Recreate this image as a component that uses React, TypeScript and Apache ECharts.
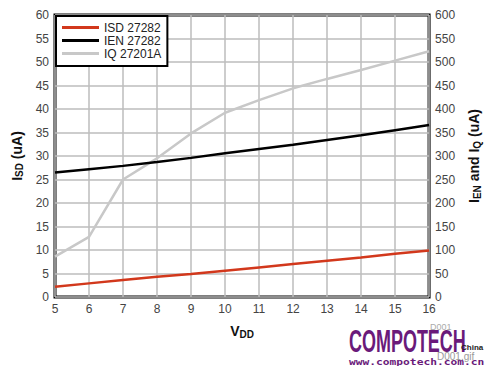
import React, { useEffect, useRef } from "react";
import * as echarts from "echarts";

const vdd = [5, 6, 7, 8, 9, 10, 11, 12, 13, 14, 15, 16];
const isd27282 = [2.2, 2.9, 3.6, 4.3, 4.9, 5.6, 6.3, 7.0, 7.7, 8.4, 9.2, 9.9];
const ien27282 = [265, 272, 279, 287, 296, 306, 315, 324, 334, 344, 355, 366];
const iq27201a = [86, 128, 250, 295, 348, 392, 419, 444, 464, 483, 503, 523];
const seriesNames = ["ISD 27282", "IEN 27282", "IQ 27201A"];

const FONT = "Liberation Sans, Arial, sans-serif";

export default function App() {
  const ref = useRef<HTMLDivElement>(null);
  useEffect(() => {
    if (!ref.current) return;
    const chart = echarts.init(ref.current, null, { renderer: "svg" });
    const pair = (ys: number[]) => vdd.map((x, i) => [x, ys[i]]);
    const nameRich = {
      b: { fontSize: 14, fontWeight: "bold", color: "#111", fontFamily: FONT, lineHeight: 16 },
      s: { fontSize: 10, fontWeight: "bold", color: "#111", fontFamily: FONT, padding: [6, 0, 0, 0], lineHeight: 16 },
    };
    chart.setOption({
      animation: false,
      backgroundColor: "#ffffff",
      textStyle: { fontFamily: FONT },
      grid: {
        left: 55,
        right: 59,
        top: 15,
        bottom: 69,
        show: true,
        borderColor: "#000",
        borderWidth: 3,
        backgroundColor: "transparent",
      },
      legend: {
        orient: "vertical",
        left: 56,
        top: 16,
        data: seriesNames,
        icon: "rect",
        itemWidth: 37,
        itemHeight: 3,
        itemGap: 0,
        backgroundColor: "#fff",
        borderColor: "#000",
        borderWidth: 2,
        borderRadius: 0,
        padding: [5, 6, 6, 6],
        textStyle: { fontFamily: FONT, fontSize: 12, color: "#222", lineHeight: 13 },
      },
      xAxis: {
        type: "value",
        min: 5,
        max: 16,
        interval: 1,
        axisLine: { show: false },
        axisTick: { show: false },
        axisLabel: { color: "#444", fontSize: 12, fontFamily: FONT, margin: 6 },
        splitLine: { show: true, lineStyle: { color: "#bdbdbd", width: 1.5 } },
        name: "{b|V}{s|DD}",
        nameLocation: "middle",
        nameGap: 26,
        nameTextStyle: { rich: nameRich },
      },
      yAxis: [
        {
          type: "value",
          min: 0,
          max: 60,
          interval: 5,
          axisLine: { show: false },
          axisTick: { show: false },
          axisLabel: { color: "#444", fontSize: 12, fontFamily: FONT, margin: 6 },
          splitLine: { show: true, lineStyle: { color: "#bdbdbd", width: 1.5 } },
          name: "{b|I}{s|SD}{b| (uA)}",
          nameLocation: "middle",
          nameGap: 28,
          nameRotate: 90,
          nameTextStyle: { rich: nameRich },
        },
        {
          type: "value",
          min: 0,
          max: 600,
          interval: 50,
          position: "right",
          axisLine: { show: false },
          axisTick: { show: false },
          axisLabel: { color: "#444", fontSize: 12, fontFamily: FONT, margin: 6 },
          splitLine: { show: false },
          name: "{b|I}{s|EN}{b| and I}{s|Q}{b| (uA)}",
          nameLocation: "middle",
          nameGap: 34,
          nameRotate: 90,
          nameTextStyle: { rich: nameRich },
        },
      ],
      series: [
        {
          name: seriesNames[0],
          type: "line",
          yAxisIndex: 0,
          data: pair(isd27282),
          symbol: "none",
          z: 5,
          lineStyle: { color: "#d2381c", width: 2.5 },
          itemStyle: { color: "#d2381c" },
        },
        {
          name: seriesNames[1],
          type: "line",
          yAxisIndex: 1,
          data: pair(ien27282),
          symbol: "none",
          z: 4,
          lineStyle: { color: "#000", width: 2.5 },
          itemStyle: { color: "#000" },
        },
        {
          name: seriesNames[2],
          type: "line",
          yAxisIndex: 1,
          data: pair(iq27201a),
          symbol: "none",
          z: 3,
          lineStyle: { color: "#c8c8c8", width: 2.5 },
          itemStyle: { color: "#c8c8c8" },
        },
      ],
      graphic: [
        { type: "text", x: 430, y: 322, style: { text: "D001", fontSize: 9, fill: "#aaa", fontFamily: FONT } },
        {
          type: "text",
          x: 349,
          y: 325,
          scaleX: 0.58,
          style: { text: "COMPOTECH", fontSize: 31, fontWeight: "bold", fill: "#6a1a7a", fontFamily: FONT },
        },
        { type: "text", x: 461, y: 343, style: { text: "China", fontSize: 8, fontWeight: "bold", fill: "#222", fontFamily: FONT } },
        { type: "text", x: 437, y: 351, style: { text: "D001.gif", fontSize: 10, fill: "#999", fontFamily: FONT } },
        {
          type: "text",
          x: 349,
          y: 357,
          scaleX: 1.25,
          style: { text: "www.compotech.com.cn", fontSize: 9, fontWeight: "bold", fill: "#6a1a7a", fontFamily: "DejaVu Sans Mono, monospace" },
        },
      ],
    });
    return () => chart.dispose();
  }, []);
  return <div ref={ref} style={{ width: 490, height: 366, position: "absolute", left: 0, top: 0 }} />;
}
